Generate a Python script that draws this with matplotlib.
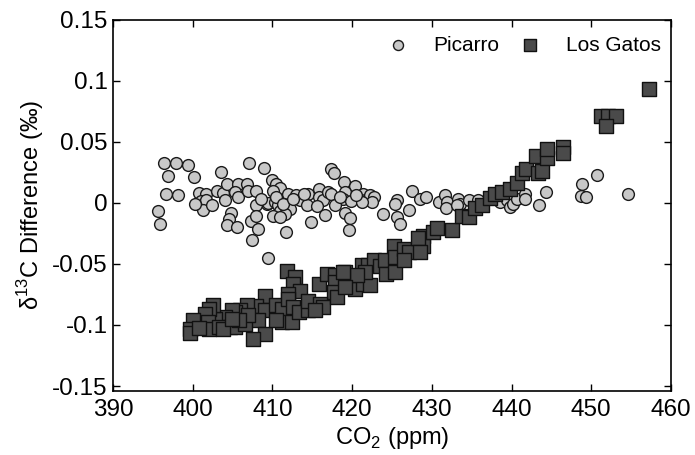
import matplotlib
matplotlib.use("Agg")
import matplotlib.pyplot as plt

plt.rcParams['font.family'] = ['Liberation Sans', 'DejaVu Sans']
plt.rcParams['mathtext.fontset'] = 'custom'
plt.rcParams['mathtext.rm'] = 'Liberation Sans'

# Picarro - delta13C difference vs CO2
picarro_co2 = [
    396.4, 397.9, 399.4, 396.9, 400.1, 403.5, 407.0, 408.9, 396.6, 398.2,
    400.8, 401.7, 401.1, 401.7, 401.3, 403.0, 403.8, 404.1, 404.3, 405.7,
    406.8, 405.3, 405.7, 406.9, 408.0, 409.3, 407.9, 395.6, 395.9, 404.8,
    404.5, 404.3, 405.6, 407.3, 408.0, 408.2, 407.4, 409.4, 417.4, 417.7,
    419.0, 420.3, 427.5, 410.0, 410.5, 411.0, 410.1, 411.9, 413.0, 413.5,
    414.5, 415.8, 415.8, 416.3, 417.0, 417.4, 419.1, 418.8, 419.9, 421.3,
    421.6, 422.2, 422.7, 422.5, 409.4, 410.3, 410.7, 411.4, 412.2, 411.0,
    411.6, 410.1, 411.0, 414.3, 415.6, 417.9, 416.6, 414.8, 419.1, 419.7,
    411.7, 419.6, 421.2, 423.9, 425.6, 425.4, 425.6, 426.0, 427.1, 428.5,
    429.3, 430.9, 431.7, 431.9, 431.8, 433.3, 433.5, 433.1, 434.6, 435.8,
    438.6, 439.4, 439.8, 440.2, 440.7, 441.7, 441.7, 443.4, 444.3, 450.7,
    448.8, 448.7, 449.3, 454.6, 410.5, 411.3, 412.6, 414.0, 418.5, 420.5,
    408.6, 402.4, 400.3,
]
picarro_d13c = [
    0.0324, 0.0324, 0.0313, 0.0223, 0.0215, 0.0252, 0.0324, 0.0286, 0.0076, 0.0060,
    0.0082, 0.0074, 0.0013, 0.0025, -0.0057, 0.0100, 0.0078, 0.0027, 0.0150, 0.0150,
    0.0155, 0.0087, 0.0046, 0.0095, 0.0100, -0.0008, -0.0022, -0.0071, -0.0172, -0.0085,
    -0.0131, -0.0185, -0.0194, -0.0145, -0.0112, -0.0218, -0.0308, -0.0451, 0.0278, 0.0242,
    0.0168, 0.0141, 0.0100, 0.0188, 0.0155, 0.0123, 0.0095, 0.0074, 0.0060, 0.0025,
    0.0068, 0.0111, 0.0046, 0.0025, 0.0087, 0.0074, 0.0087, 0.0033, 0.0013, 0.0074,
    0.0019, 0.0060, 0.0046, 0.0005, -0.0003, 0.0005, -0.0022, -0.0008, -0.0049, -0.0063,
    -0.0090, -0.0104, -0.0118, -0.0022, -0.0030, -0.0016, -0.0098, -0.0158, -0.0085, -0.0123,
    -0.0237, -0.0226, 0.0005, -0.0090, 0.0019, -0.0008, -0.0118, -0.0172, -0.0057, 0.0033,
    0.0046, 0.0005, 0.0060, 0.0005, -0.0041, 0.0033, -0.0008, -0.0022, 0.0019, 0.0019,
    0.0005, 0.0025, -0.0036, -0.0008, 0.0033, 0.0074, 0.0033, -0.0022, 0.0087, 0.0231,
    0.0155, 0.0054, 0.0046, 0.0074, 0.0050, -0.0010, 0.0030, 0.0070, 0.0050, 0.0060,
    0.0030, -0.0020, -0.0010,
]

# Los Gatos - delta13C difference vs CO2
losgatos_co2 = [
    411.8, 412.8, 412.6, 413.5, 412.0, 415.8, 416.8, 417.9, 417.9, 417.7,
    419.1, 419.5, 420.4, 421.4, 422.2, 421.2, 422.0, 422.7, 423.5, 424.1,
    424.3, 425.2, 425.4, 425.4, 409.1, 408.0, 409.1, 408.2, 409.1, 407.6,
    410.5, 411.2, 411.2, 412.4, 410.5, 412.0, 412.6, 413.3, 414.5, 414.5,
    416.0, 416.4, 406.8, 405.9, 405.3, 404.9, 404.1, 404.7, 405.3, 406.6,
    406.9, 402.8, 402.6, 402.0, 401.6, 401.9, 402.0, 403.3, 400.0, 399.7,
    399.7, 400.8, 403.8, 405.8, 404.9, 415.3, 426.5, 427.1, 426.5, 421.6,
    420.6, 418.9, 418.1, 419.1, 428.9, 428.9, 428.3, 430.2, 430.7, 432.5,
    433.8, 434.6, 435.4, 436.3, 437.3, 437.9, 438.8, 439.8, 440.7, 441.3,
    441.8, 443.3, 443.8, 443.0, 444.5, 444.4, 446.4, 446.4, 451.2, 452.1,
    453.1, 451.9, 457.3, 428.5,
]
losgatos_d13c = [
    -0.0556, -0.0610, -0.0662, -0.0725, -0.0749, -0.0665, -0.0583, -0.0594, -0.0645, -0.0727,
    -0.0567, -0.0629, -0.0703, -0.0662, -0.0676, -0.0508, -0.0512, -0.0471, -0.0520, -0.0469,
    -0.0580, -0.0353, -0.0444, -0.0569, -0.0766, -0.0843, -0.0880, -0.0962, -0.1070, -0.1111,
    -0.0839, -0.0866, -0.0975, -0.0975, -0.0962, -0.0784, -0.0853, -0.0894, -0.0880, -0.0801,
    -0.0831, -0.0853, -0.0839, -0.0874, -0.0894, -0.0880, -0.0935, -0.1016, -0.1016, -0.0992,
    -0.0921, -0.0951, -0.0839, -0.0872, -0.0913, -0.0978, -0.1035, -0.1016, -0.0962, -0.1029,
    -0.1068, -0.1027, -0.1029, -0.0962, -0.0948, -0.0880, -0.0376, -0.0404, -0.0471, -0.0567,
    -0.0594, -0.0567, -0.0771, -0.0690, -0.0275, -0.0353, -0.0290, -0.0240, -0.0206, -0.0221,
    -0.0104, -0.0120, -0.0042, -0.0022, 0.0039, 0.0070, 0.0087, 0.0114, 0.0163, 0.0243,
    0.0278, 0.0245, 0.0264, 0.0386, 0.0368, 0.0441, 0.0460, 0.0411, 0.0713, 0.0713,
    0.0713, 0.0627, 0.0931, -0.0404,
]

x_ticks = [390, 400, 410, 420, 430, 440, 450, 460]
y_ticks = [-0.15, -0.1, -0.05, 0, 0.05, 0.1, 0.15]
y_tick_labels = ['-0.15', '-0.1', '-0.05', '0', '0.05', '0.1', '0.15']

fig = plt.figure(figsize=(6.95, 4.55), dpi=100)
ax = fig.add_axes([0.1626, 0.1407, 0.8029, 0.8164])

ax.scatter(picarro_co2, picarro_d13c, s=72, marker='o', facecolor='#c8c8c8',
           edgecolor='#1a1a1a', linewidth=1.0, label='Picarro', zorder=2)
ax.scatter(losgatos_co2, losgatos_d13c, s=90, marker='s', facecolor='#4a4a4a',
           edgecolor='#111111', linewidth=1.0, label='Los Gatos', zorder=3)

ax.set_xlim(390, 460)
ax.set_ylim(-0.154, 0.15)
ax.set_xticks(x_ticks)
ax.set_yticks(y_ticks)
ax.set_yticklabels(y_tick_labels)
ax.tick_params(direction='in', top=True, right=True, length=5, width=1,
               labelsize=17.5, pad=4)
ax.tick_params(axis='x', pad=6)
for sp in ax.spines.values():
    sp.set_linewidth(1.2)

ax.set_xlabel('CO$_2$ (ppm)', fontsize=17, labelpad=3)
ax.set_ylabel('δ$^{13}$C Difference (‰)', fontsize=17, labelpad=4)

ax.legend(loc='upper right', ncol=2, frameon=False, fontsize=15,
          markerscale=0.85, handlelength=1.0, handletextpad=1.2,
          columnspacing=1.0, borderaxespad=0.1, bbox_to_anchor=(1.0, 0.985))

fig.savefig('out.png', dpi=100)
